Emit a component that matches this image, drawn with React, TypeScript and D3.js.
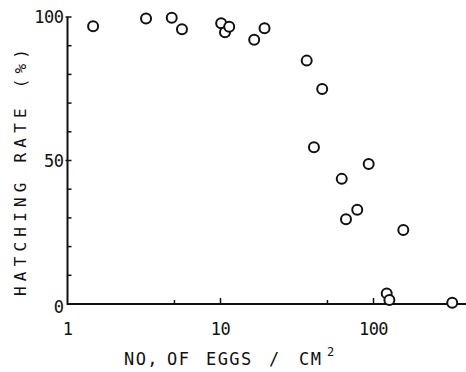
import React from "react";
import * as d3 from "d3";

const eggs = [1.47, 3.26, 4.8, 5.6, 10.1, 10.7, 11.4, 16.6, 19.4, 36.6, 46.2, 40.8, 62, 78.3, 66.1, 93, 156.6, 122, 127, 327];
const hatch = [96.8, 99.5, 99.7, 95.7, 97.8, 94.7, 96.6, 92.1, 96.1, 84.8, 74.9, 54.6, 43.6, 32.8, 29.5, 48.8, 25.8, 3.7, 1.4, 0.45];
const xMajorTicks = [1, 10, 100];
const xMinorTicks = [5, 50];
const yMajorTicks = [0, 50, 100];
const yMinorTicks = [10, 20, 30, 40, 60, 70, 80, 90];
const yTitle = "HATCHING RATE (%)";
const xTitleParts = ["NO,", "OF", "EGGS", "/", "CM"];
const xTitleSup = "2";

const W = 466;
const H = 372;
const x0 = 67.5;
const decade = 153;

export default function App() {
  const x = d3.scaleLog().domain([1, 400]).range([x0, x0 + decade * Math.log10(400)]);
  const y = d3.scaleLinear().domain([0, 100]).range([304, 17]);
  const font = "'DejaVu Sans Mono', monospace";
  const ink = "#111";
  const partX = [124, 167, 206, 269, 299];
  return (
    <svg width={W} height={H} style={{ position: "absolute", left: 0, top: 0, background: "#fff" }}>
      {/* axes */}
      <line x1={x(1)} x2={W} y1={y(0)} y2={y(0)} stroke={ink} strokeWidth={2} />
      <line x1={x(1)} x2={x(1)} y1={y(0) + 1} y2={y(100)} stroke={ink} strokeWidth={2} />
      {xMajorTicks.filter((t) => t > 1).map((t) => (
        <line key={"xM" + t} x1={x(t)} x2={x(t)} y1={y(0)} y2={y(0) - 6} stroke={ink} strokeWidth={1.5} />
      ))}
      {xMinorTicks.map((t) => (
        <line key={"xm" + t} x1={x(t)} x2={x(t)} y1={y(0)} y2={y(0) - 4} stroke={ink} strokeWidth={1.5} />
      ))}
      {yMajorTicks.filter((t) => t > 0).map((t) => (
        <line key={"yM" + t} x1={x(1) - 2} x2={x(1) + 4} y1={y(t)} y2={y(t)} stroke={ink} strokeWidth={1.5} />
      ))}
      {yMinorTicks.map((t) => (
        <line key={"ym" + t} x1={x(1)} x2={x(1) + 4} y1={y(t)} y2={y(t)} stroke={ink} strokeWidth={1.5} />
      ))}
      {/* tick labels */}
      {yMajorTicks.map((t) => (
        <text key={"yl" + t} x={x(1) - 4} y={y(t) + (t === 0 ? 3 : 0)} textAnchor="end" dominantBaseline="central"
          fontFamily={font} fontSize={17} fill={ink} letterSpacing={-0.5}>{t}</text>
      ))}
      {xMajorTicks.map((t) => (
        <text key={"xl" + t} x={x(t)} y={329} textAnchor="middle" dominantBaseline="central"
          fontFamily={font} fontSize={17} fill={ink} letterSpacing={-0.5}>{t}</text>
      ))}
      {/* titles */}
      <text transform="translate(25.5,296) rotate(-90)" fontFamily={font} fontSize={16} fill={ink} letterSpacing={5.2}>
        {yTitle}
      </text>
      {xTitleParts.map((p, i) => (
        <text key={"xt" + i} x={partX[i]} y={365} fontFamily={font} fontSize={17} fill={ink} letterSpacing={1.4}>{p}</text>
      ))}
      <text x={327} y={356} fontFamily={font} fontSize={12} fill={ink}>{xTitleSup}</text>
      {/* points */}
      {eggs.map((e, i) => (
        <circle key={"p" + i} cx={x(e)} cy={y(hatch[i])} r={5} fill="#fff" stroke={ink} strokeWidth={2} />
      ))}
    </svg>
  );
}
